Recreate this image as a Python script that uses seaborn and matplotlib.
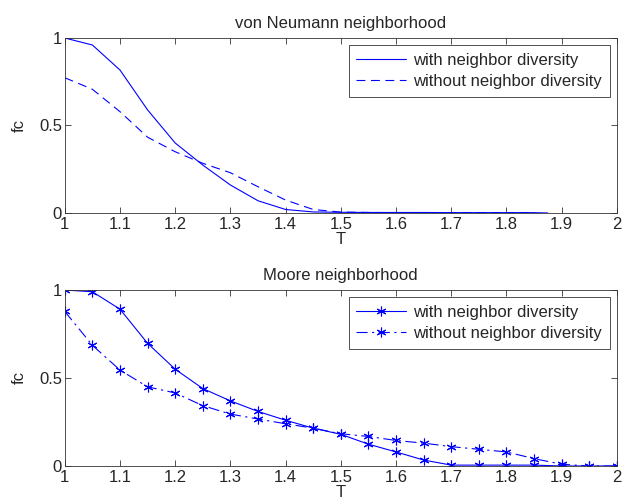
import matplotlib
matplotlib.use("Agg")
import matplotlib.pyplot as plt
import seaborn as sns
import numpy as np

# ---- data ----
top_T_with = [1.00, 1.05, 1.10, 1.15, 1.20, 1.25, 1.30, 1.35, 1.40, 1.45,
              1.50, 1.55, 1.60, 1.65, 1.70, 1.75, 1.80, 1.85, 1.875]
top_with = [1.0, 0.96, 0.817, 0.589, 0.40, 0.274, 0.16, 0.07, 0.02, 0.006,
            0.004, 0.003, 0.003, 0.003, 0.002, 0.002, 0.002, 0.002, 0.0]
top_T_without = [1.00, 1.05, 1.10, 1.15, 1.20, 1.25, 1.30, 1.35, 1.40, 1.45,
                 1.50, 1.55, 1.60, 1.65, 1.70, 1.75, 1.80, 1.85]
top_without = [0.773, 0.707, 0.579, 0.433, 0.35, 0.284, 0.23, 0.15, 0.074, 0.02,
               0.005, 0.003, 0.002, 0.002, 0.002, 0.002, 0.002, 0.002]

bot_T = [1.00, 1.05, 1.10, 1.15, 1.20, 1.25, 1.30, 1.35, 1.40, 1.45, 1.50,
         1.55, 1.60, 1.65, 1.70, 1.75, 1.80, 1.85, 1.90, 1.95, 2.00]
bot_with = [1.0, 0.99, 0.891, 0.697, 0.55, 0.44, 0.37, 0.31, 0.26, 0.215, 0.18,
            0.124, 0.08, 0.034, 0.005, 0.005, 0.005, 0.005, 0.0, 0.0, 0.0]
bot_without = [0.878, 0.686, 0.545, 0.45, 0.415, 0.343, 0.295, 0.267, 0.24, 0.215, 0.183,
               0.168, 0.145, 0.13, 0.11, 0.095, 0.08, 0.042, 0.01, 0.0, 0.0]

labels = ["with neighbor diversity", "without neighbor diversity"]
titles = ["von Neumann neighborhood", "Moore neighborhood"]
xticks = [1, 1.1, 1.2, 1.3, 1.4, 1.5, 1.6, 1.7, 1.8, 1.9, 2]
xticklabels = ["1", "1.1", "1.2", "1.3", "1.4", "1.5", "1.6", "1.7", "1.8", "1.9", "2"]
yticks = [0, 0.5, 1]
yticklabels = ["0", "0.5", "1"]

sns.set_style("ticks")
plt.rcParams["font.family"] = ["Liberation Sans", "DejaVu Sans"]
plt.rcParams["font.size"] = 12

fig = plt.figure(figsize=(6.23, 5.04), dpi=100)
ax1 = fig.add_axes([0.104, 0.5774, 0.886, 0.3472])
ax2 = fig.add_axes([0.104, 0.0754, 0.886, 0.3492])

blue = "#0000ff"
lw = 0.8

sns.lineplot(x=top_T_with, y=top_with, ax=ax1, color=blue, linewidth=lw,
             label=labels[0])
sns.lineplot(x=top_T_without, y=top_without, ax=ax1, color=blue, linewidth=lw,
             linestyle=(0, (8, 5)), label=labels[1])

mk = (6, 2, 0)
sns.lineplot(x=bot_T, y=bot_with, ax=ax2, color=blue, linewidth=lw,
             marker=mk, markersize=7, markeredgewidth=0.8, markeredgecolor=blue,
             label=labels[0])
sns.lineplot(x=bot_T, y=bot_without, ax=ax2, color=blue, linewidth=lw,
             linestyle=(0, (10, 4, 2, 4)),
             marker=mk, markersize=7, markeredgewidth=0.8, markeredgecolor=blue,
             label=labels[1])

for ax, t in zip([ax1, ax2], titles):
    ax.set_xlim(1, 2)
    ax.set_ylim(0, 1)
    ax.set_xticks(xticks)
    ax.set_xticklabels(xticklabels)
    ax.set_yticks(yticks)
    ax.set_yticklabels(yticklabels)
    ax.set_xlabel("T", fontsize=12, labelpad=0)
    ax.set_ylabel("fc", fontsize=12, labelpad=9)
    ax.set_title(t, fontsize=12, pad=7)
    ax.tick_params(direction="in", top=True, right=True, length=4, width=0.6,
                   color="#333333", labelsize=12, pad=3)
    ax.tick_params(axis="y", pad=2)
    for s in ax.spines.values():
        s.set_visible(True)
        s.set_color("#333333")
        s.set_linewidth(0.6)
    leg = ax.legend(loc="upper right", fontsize=12, handlelength=3.0,
                    handletextpad=0.45, labelspacing=0.4, borderaxespad=0.42,
                    borderpad=0.45, fancybox=False, framealpha=1)
    leg.get_frame().set_edgecolor("#333333")
    leg.get_frame().set_linewidth(0.6)

fig.savefig("out.png", dpi=100)
